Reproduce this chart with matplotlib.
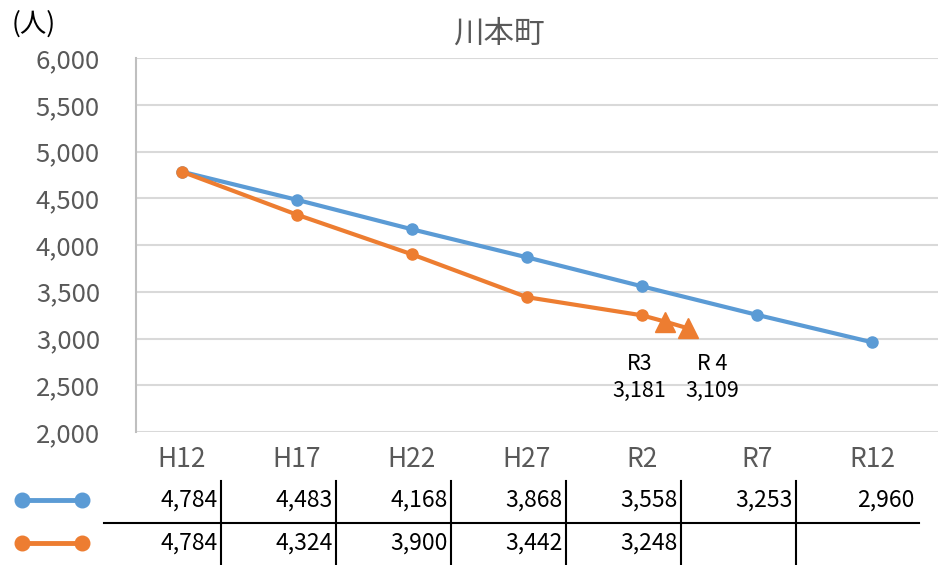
"""Population trend chart for 川本町 with a small data table underneath."""

import matplotlib
matplotlib.use("Agg")
import matplotlib.pyplot as plt
import matplotlib.transforms as mtransforms

plt.rcParams["font.family"] = ["Noto Sans CJK JP", "DejaVu Sans"]

# ---------------------------------------------------------------------------
# Data
# ---------------------------------------------------------------------------
categories = ["H12", "H17", "H22", "H27", "R2", "R7", "R12"]
projection = [4784, 4483, 4168, 3868, 3558, 3253, 2960]   # blue series
actual     = [4784, 4324, 3900, 3442, 3248]               # orange series

extra_pos    = [4.2, 4.4]          # R3, R4 between R2 and R7
extra_vals   = [3181, 3109]
extra_labels = ["R3", "R 4"]

yticks = [2000, 2500, 3000, 3500, 4000, 4500, 5000, 5500, 6000]

BLUE   = "#5B9BD5"
ORANGE = "#ED7D31"
GREY   = "#595959"

# ---------------------------------------------------------------------------
# Figure
# ---------------------------------------------------------------------------
fig = plt.figure(figsize=(9.38, 5.65), dpi=100)
ax = fig.add_axes([0.145, 0.2354, 0.855, 0.6619])

x = list(range(len(categories)))
ax.plot(x, projection, color=BLUE, lw=3, marker="o", ms=8, zorder=3)
ax.plot(range(len(actual)), actual, color=ORANGE, lw=3, marker="o", ms=8, zorder=4)
# tail of the actual series up to R3 / R4
ax.plot([len(actual) - 1] + extra_pos, [actual[-1]] + extra_vals,
        color=ORANGE, lw=3, zorder=4)
ax.plot(extra_pos, extra_vals, ls="none", marker="^", ms=14, color=ORANGE, zorder=5)

# labels for R3 / R4 sit on one line under the triangles
for px, lab, val in zip(extra_pos, extra_labels, extra_vals):
    dx = -0.22 if lab == "R3" else 0.21
    ax.text(px + dx, 2845, f"{lab}\n{val:,}", ha="center", va="top",
            fontsize=15.5, linespacing=1.3, color="black")

ax.set_xlim(-0.4, 6.574)
ax.set_ylim(2000, 6000)
ax.set_yticks(yticks)
ax.set_yticklabels([f"{v:,}" for v in yticks])
ax.set_xticks(x)
ax.set_xticklabels(categories)
ax.tick_params(axis="y", length=0, pad=26, labelsize=18.5, labelcolor=GREY)
ax.tick_params(axis="x", length=0, pad=10, labelsize=19, labelcolor=GREY)

ax.grid(axis="y", color="#d9d9d9", lw=1.5)
ax.set_axisbelow(True)
for side in ["top", "right", "bottom"]:
    ax.spines[side].set_visible(False)
ax.spines["left"].set_color("#bfbfbf")
ax.spines["left"].set_linewidth(1.5)

ax.set_title("川本町", fontsize=22, color=GREY, pad=11, x=0.453)
fig.text(0.012, 0.958, "(人)", fontsize=19, color="black", va="center")

# ---------------------------------------------------------------------------
# Table below the chart
# ---------------------------------------------------------------------------
trans = mtransforms.blended_transform_factory(ax.transData, fig.transFigure)
row_y = [1 - 500 / 565, 1 - 543 / 565]
sep_y = 1 - 523 / 565
last = len(categories) - 1

for row, vals in zip(row_y, [projection, actual]):
    for i, v in enumerate(vals):
        # last column has no right border, its numbers sit a bit further right
        right = i + (0.37 if i == last else 0.31)
        ax.text(right, row, f"{v:,}", transform=trans, ha="right",
                va="center", fontsize=16.5, color="black", clip_on=False)

for i in range(last):
    ax.plot([i + 0.34, i + 0.34], [1 - 481 / 565, 0], transform=trans,
            color="black", lw=1.5, clip_on=False)
ax.plot([-0.68, 6.41], [sep_y, sep_y], transform=trans, color="black",
        lw=1.5, clip_on=False)

# legend keys at the left of the table
for row, col in zip(row_y, [BLUE, ORANGE]):
    fig.add_artist(plt.Line2D([22 / 938, 82 / 938], [row, row], color=col,
                              lw=3.5, marker="o", ms=10.5))

fig.savefig("out.png", dpi=100)
